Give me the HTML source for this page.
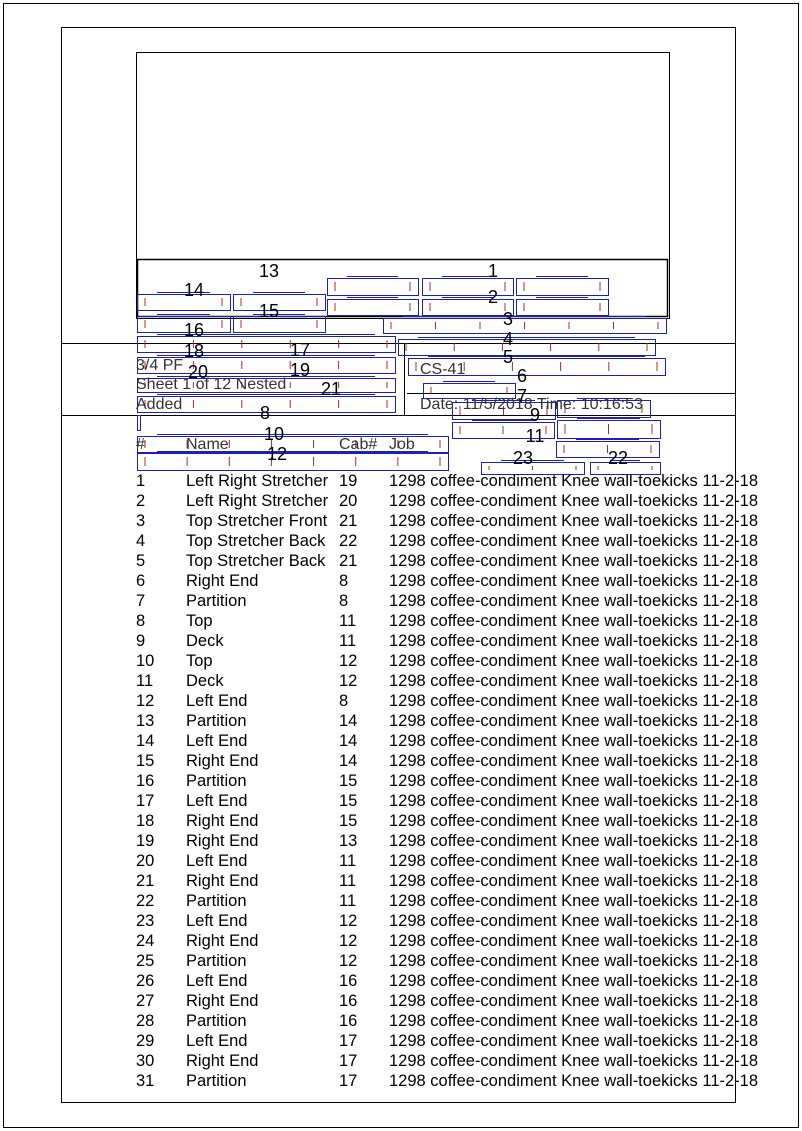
<!DOCTYPE html>
<html><head><meta charset="utf-8"><style>
html,body{margin:0;padding:0;background:#fff}
svg{display:block}
text{font-family:"Liberation Sans",Arial,sans-serif}
</style></head><body>
<svg id="s" width="802" height="1131" xmlns="http://www.w3.org/2000/svg">
<rect x="3.5" y="3.5" width="795" height="1124" fill="none" stroke="#000"/>
<rect x="61.5" y="27.5" width="674" height="1075" fill="none" stroke="#000"/>
<rect x="136.5" y="52.5" width="533" height="266" fill="none" stroke="#000"/>
<rect x="137.5" y="259.5" width="530" height="57" fill="none" stroke="#000" stroke-width="1.5"/>
<line x1="61" y1="343.5" x2="735" y2="343.5" stroke="#000"/>
<line x1="61" y1="415.5" x2="735" y2="415.5" stroke="#000"/>
<line x1="407" y1="393.5" x2="735" y2="393.5" stroke="#000"/>
<line x1="404.5" y1="343" x2="404.5" y2="415" stroke="#000"/>
<g id="boxes"></g>
<g font-size="16" fill="#333">
<text x="136" y="370">3/4 PF</text>
<text x="136" y="389">Sheet 1 of 12 Nested</text>
<text x="136" y="409">Added</text>
<text x="420" y="374">CS-41</text>
<text x="420" y="409">Date: 11/5/2018  Time: 10:16:53</text>
<text x="136" y="449">#</text><text x="186" y="449">Name</text><text x="339" y="449">Cab#</text><text x="389" y="449">Job</text>
</g>
<g font-size="18" fill="#000" text-anchor="middle" id="labels"></g>
<g font-size="16.5" fill="#000" id="rows"></g>
</svg>
<script>
var NS="http://www.w3.org/2000/svg";
function el(t,a,p,txt){var e=document.createElementNS(NS,t);for(var k in a)e.setAttribute(k,a[k]);if(txt!=null)e.textContent=txt;p.appendChild(e);return e;}
var B=document.getElementById("boxes");
var bx=[[137,294,93,16],[233,294,92,16],[327,278,91,17],[422,278,91,17],[516,278,92,17],[327,299,91,16],[422,299,91,16],[516,299,92,16],
[137,316,93,16],[233,316,92,16],[383,318,283,15],[137,336,258,16],[398,339,257,16],[137,357,258,16],[408,358,257,17],
[137,378,258,14],[423,383,92,15],[137,396,258,16],[452,402,103,17],[557,400,93,17],[137,415,3,15],[452,422,102,16],[557,420,103,18],
[137,436,311,16],[556,441,103,16],[137,453,311,17],[481,462,103,12],[590,462,70,12]];
bx.forEach(function(b){
 el("rect",{x:b[0]+.5,y:b[1]+.5,width:b[2],height:b[3],fill:"none",stroke:"#2020b0"},B);
 if(b[2]>20){var n=Math.max(2,Math.round(b[2]/40));for(var i=0;i<n;i++){var x=b[0]+8+i*(b[2]-16)/(n-1);
 el("line",{x1:x,y1:b[1]+4,x2:x,y2:b[1]+b[3]-4,stroke:"#a03030"},B);}
 el("line",{x1:b[0]+20,y1:b[1]-1.5,x2:b[0]+b[2]-20,y2:b[1]-1.5,stroke:"#2020b0"},B);}
});
var L=[["13",269,277],["1",493,277],["14",194,296],["2",493,303],["15",269,317],["3",508,325],["16",194,336],["4",508,345],["17",300,356],["18",194,357],["5",508,363],["19",300,376],["20",198,378],["6",522,382],["21",331,395],["7",522,402],["8",265,419],["9",535,421],["10",274,440],["11",535,442],["12",277,460],["23",523,464],["22",618,464]];
var G=document.getElementById("labels");
L.forEach(function(l){el("text",{x:l[1],y:l[2]},G,l[0]);});
var R=[["Left Right Stretcher",19],["Left Right Stretcher",20],["Top Stretcher Front",21],["Top Stretcher Back",22],["Top Stretcher Back",21],["Right End",8],["Partition",8],["Top",11],["Deck",11],["Top",12],["Deck",12],["Left End",8],["Partition",14],["Left End",14],["Right End",14],["Partition",15],["Left End",15],["Right End",15],["Right End",13],["Left End",11],["Right End",11],["Partition",11],["Left End",12],["Right End",12],["Partition",12],["Left End",16],["Right End",16],["Partition",16],["Left End",17],["Right End",17],["Partition",17]];
var RG=document.getElementById("rows");
R.forEach(function(r,i){var y=486+i*20;
 el("text",{x:136,y:y},RG,String(i+1));el("text",{x:186,y:y},RG,r[0]);el("text",{x:339,y:y},RG,String(r[1]));
 el("text",{x:389,y:y},RG,"1298 coffee-condiment Knee wall-toekicks 11-2-18");});
</script>
</body></html>
